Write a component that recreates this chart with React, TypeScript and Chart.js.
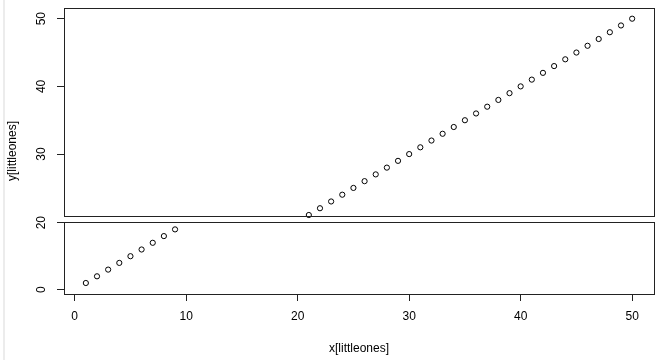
import { useEffect, useRef } from "react";
import { Chart, registerables } from "chart.js";

Chart.register(...registerables);

// ---- data ----
const lowX = [1, 2, 3, 4, 5, 6, 7, 8, 9];
const lowY = [1, 2, 3, 4, 5, 6, 7, 8, 9];
const highX = [21, 22, 23, 24, 25, 26, 27, 28, 29, 30, 31, 32, 33, 34, 35, 36, 37, 38, 39, 40, 41, 42, 43, 44, 45, 46, 47, 48, 49, 50];
const highY = [21, 22, 23, 24, 25, 26, 27, 28, 29, 30, 31, 32, 33, 34, 35, 36, 37, 38, 39, 40, 41, 42, 43, 44, 45, 46, 47, 48, 49, 50];
const xTicks = [0, 10, 20, 30, 40, 50];
const upperTicks = [30, 40, 50];
const lowerTicks = [0, 10];
const lowerTickLabels = ["0", "20"];
const xLabel = "x[littleones]";
const yLabel = "y[littleones]";

const FONT = '12px "Liberation Sans", Arial, sans-serif';

const framePlugin = {
  id: "frame",
  beforeDraw(chart: any) {
    const ctx = chart.ctx;
    ctx.save();
    ctx.fillStyle = "#ececec";
    ctx.fillRect(3, 0, 2, chart.height);
    ctx.restore();
  },
  afterDraw(chart: any) {
    const { ctx, chartArea } = chart;
    const y1 = chart.scales.y1;
    const y2 = chart.scales.y2;
    ctx.save();
    ctx.strokeStyle = "#222";
    ctx.lineWidth = 1;
    const l = Math.round(chartArea.left) + 0.5;
    const r = Math.round(chartArea.right) + 0.5;
    const t1 = Math.round(y1.top) + 0.5;
    const b1 = Math.round(y1.bottom - 3) + 0.5;
    const t2 = Math.round(y2.top + 3) + 0.5;
    const b2 = Math.round(y2.bottom) + 0.5;
    ctx.strokeRect(l, t1, r - l, b1 - t1);
    ctx.strokeRect(l, t2, r - l, b2 - t2);

    ctx.fillStyle = "#000";
    ctx.font = FONT;
    ctx.textAlign = "center";
    ctx.textBaseline = "middle";
    const lx = chartArea.left - 22;
    y1.ticks.forEach((t: any) => {
      const py = y1.getPixelForValue(t.value);
      ctx.save();
      ctx.translate(lx, py);
      ctx.rotate(-Math.PI / 2);
      ctx.fillText(String(t.value), 0, 0);
      ctx.restore();
    });
    y2.ticks.forEach((t: any, i: number) => {
      const py = y2.getPixelForValue(t.value);
      ctx.save();
      ctx.translate(lx, py);
      ctx.rotate(-Math.PI / 2);
      ctx.fillText(lowerTickLabels[i], 0, 0);
      ctx.restore();
    });
    // y title
    ctx.save();
    ctx.translate(13, (y1.top + y2.bottom) / 2);
    ctx.rotate(-Math.PI / 2);
    ctx.fillText(yLabel, 0, 0);
    ctx.restore();
    // x title
    ctx.fillText(xLabel, (chartArea.left + chartArea.right) / 2, 349);
    ctx.restore();
  },
};

export default function App() {
  const ref = useRef<HTMLCanvasElement | null>(null);
  useEffect(() => {
    if (!ref.current) return;
    const pointStyle = {
      showLine: false,
      pointRadius: 2.6,
      pointBorderWidth: 1,
      pointBorderColor: "#000",
      pointBackgroundColor: "rgba(0,0,0,0)",
    };
    const chart = new Chart(ref.current, {
      type: "scatter",
      data: {
        datasets: [
          {
            ...pointStyle,
            data: highX.map((x, i) => ({ x, y: highY[i] })),
            yAxisID: "y1",
          },
          {
            ...pointStyle,
            data: lowX.map((x, i) => ({ x, y: lowY[i] })),
            yAxisID: "y2",
          },
        ],
      },
      options: {
        animation: false,
        responsive: false,
        devicePixelRatio: 1,
        layout: { padding: { left: 0, right: 6, top: 8, bottom: 0 } },
        plugins: { legend: { display: false }, tooltip: { enabled: false } },
        scales: {
          x: {
            type: "linear",
            min: -0.96,
            max: 51.96,
            afterBuildTicks: (s: any) => {
              s.ticks = xTicks.map((v) => ({ value: v }));
            },
            afterFit: (s: any) => {
              s.height = 66;
            },
            border: { display: false },
            grid: { display: true, drawOnChartArea: false, drawTicks: true, tickLength: 7, color: "#222", lineWidth: 1 },
            ticks: { color: "#000", font: { family: '"Liberation Sans", Arial, sans-serif', size: 12 }, padding: 8, maxRotation: 0, autoSkip: false },
          },
          y2: {
            type: "linear",
            position: "left",
            stack: "gap",
            stackWeight: 75,
            min: -0.64,
            max: 10.55,
            afterBuildTicks: (s: any) => {
              s.ticks = lowerTicks.map((v) => ({ value: v }));
            },
            afterFit: (s: any) => {
              s.width = 64;
            },
            border: { display: false },
            grid: { display: true, drawOnChartArea: false, drawTicks: true, tickLength: 7, color: "#222", lineWidth: 1 },
            ticks: { display: false },
          },
          y1: {
            type: "linear",
            position: "left",
            stack: "gap",
            stackWeight: 211,
            min: 20.41,
            max: 51.58,
            afterBuildTicks: (s: any) => {
              s.ticks = upperTicks.map((v) => ({ value: v }));
            },
            afterFit: (s: any) => {
              s.width = 64;
            },
            border: { display: false },
            grid: { display: true, drawOnChartArea: false, drawTicks: true, tickLength: 7, color: "#222", lineWidth: 1 },
            ticks: { display: false },
          },
        },
      } as any,
      plugins: [framePlugin],
    });
    return () => chart.destroy();
  }, []);
  return (
    <div style={{ position: "absolute", left: 0, top: 0, width: 660, height: 360 }}>
      <canvas ref={ref} width={660} height={360} style={{ display: "block" }} />
    </div>
  );
}
